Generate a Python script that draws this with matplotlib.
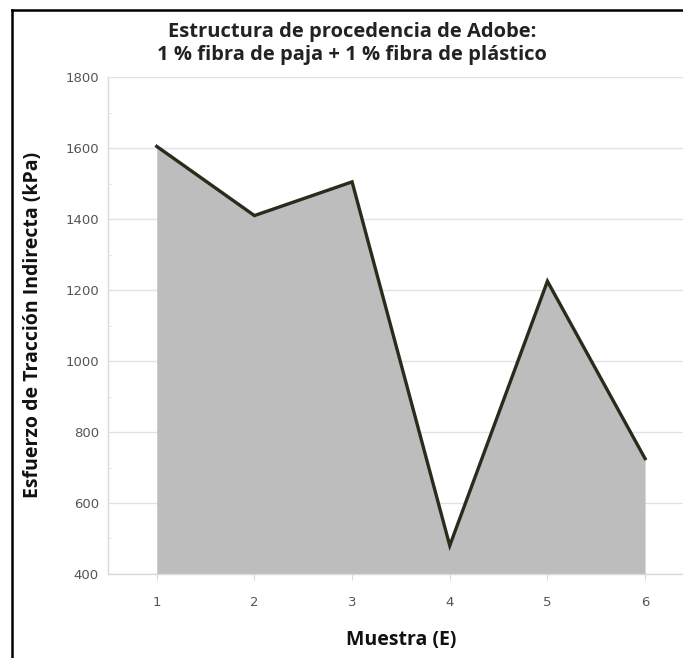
import matplotlib
matplotlib.use("Agg")
import matplotlib.pyplot as plt
from matplotlib.lines import Line2D
from matplotlib.ticker import MultipleLocator

muestras = [1, 2, 3, 4, 5, 6]
esfuerzo = [1605, 1410, 1505, 480, 1225, 725]
y_ticks = [400, 600, 800, 1000, 1200, 1400, 1600, 1800]

title = "Estructura de procedencia de Adobe:\n1 % fibra de paja + 1 % fibra de plástico"
ylabel = "Esfuerzo de Tracción Indirecta (kPa)"
xlabel = "Muestra (E)"

fig = plt.figure(figsize=(6.83, 6.58), dpi=100)
# plot area runs a little past the right edge, as in the source image
ax = fig.add_axes([0.158, 0.1277, 0.858, 0.755])

ax.fill_between(muestras, esfuerzo, 400, color="#bdbdbd", linewidth=0, zorder=2)
ax.plot(muestras, esfuerzo, color="#2b2b1c", linewidth=2.4, zorder=3,
        solid_joinstyle="miter")

ax.set_xlim(0.5, 6.5)
ax.set_ylim(400, 1800)
ax.set_xticks(muestras)
ax.set_yticks(y_ticks)
ax.yaxis.set_minor_locator(MultipleLocator(100))
ax.grid(axis="y", which="major", color="#e3e3e3", linewidth=1, zorder=0)
ax.set_axisbelow(True)

for s in ["top", "right"]:
    ax.spines[s].set_visible(False)
for s in ["left", "bottom"]:
    ax.spines[s].set_color("#d9d9d9")
    ax.spines[s].set_linewidth(1)

ax.tick_params(axis="x", length=4, color="#d9d9d9", pad=12, labelsize=9.5,
               labelcolor="#555555")
ax.tick_params(axis="y", which="major", length=0, pad=6.5, labelsize=9.5,
               labelcolor="#555555")
ax.tick_params(axis="y", which="minor", direction="in", length=3,
               color="#e3e3e3")

fig.text(0.515, 0.967, title, ha="center", va="top", fontsize=14.5,
         fontweight="bold", family="Open Sans", color="#222222",
         linespacing=1.2)
fig.text(0.049, 0.506, ylabel, ha="center", va="center", rotation=90,
         fontsize=14, fontweight="bold", family="Open Sans", color="#111111")
fig.text(0.587, 0.012, xlabel, ha="center", va="bottom", fontsize=14,
         fontweight="bold", family="Open Sans", color="#111111")

# black frame on left and top edges
fig.add_artist(Line2D([12 / 683, 12 / 683], [0, 1 - 10 / 658],
                      transform=fig.transFigure, color="black", linewidth=1.8))
fig.add_artist(Line2D([12 / 683, 1], [1 - 10 / 658, 1 - 10 / 658],
                      transform=fig.transFigure, color="black", linewidth=1.8))

fig.savefig("out.png", dpi=100)
